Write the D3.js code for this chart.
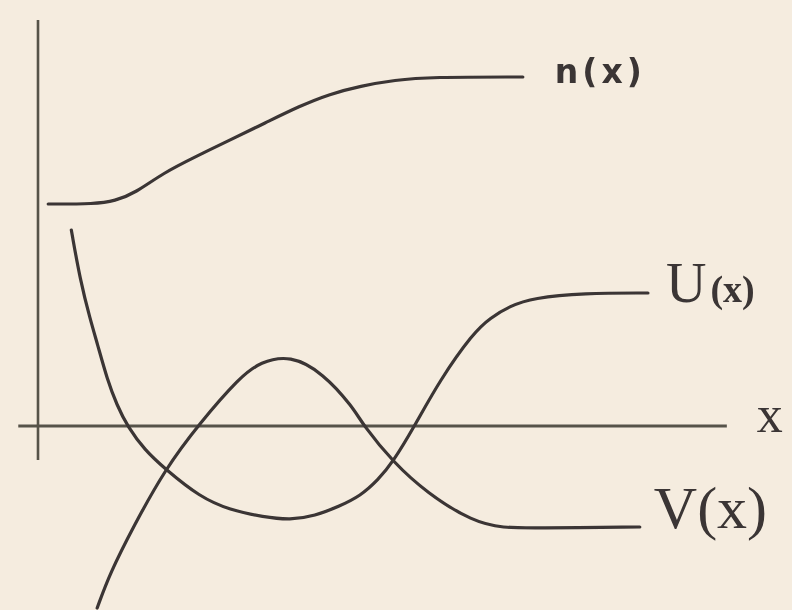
<!DOCTYPE html>
<html>
<head>
<meta charset="utf-8">
<script src="https://cdn.jsdelivr.net/npm/d3@7/dist/d3.min.js"></script>
<style>
  html, body { margin: 0; padding: 0; background: #f5ecdf; }
  svg { display: block; }
</style>
</head>
<body>
<script>
// Sketch of n(x), U(x) and V(x) against x (schematic units).
const nX = [0.15, 0.84, 1.13, 1.43, 1.84, 2.34, 2.82, 3.34, 3.85, 4.29, 4.74, 5.25, 5.77, 7.13];
const nY = [4.44, 4.44, 4.50, 4.66, 5.06, 5.40, 5.72, 6.06, 6.40, 6.64, 6.80, 6.92, 6.98, 6.98];

const uX = [0.49, 0.62, 0.77, 0.87, 1.02, 1.16, 1.32, 1.57, 1.87, 2.38, 2.82, 3.32, 3.71, 4.07, 4.44, 4.74, 5.00, 5.22, 5.53, 5.91, 6.40, 6.65, 6.94, 7.28, 8.02, 8.97];
const uY = [3.92, 2.92, 2.12, 1.66, 0.92, 0.42, -0.02, -0.48, -0.86, -1.42, -1.68, -1.82, -1.88, -1.80, -1.60, -1.40, -1.08, -0.72, -0.02, 0.92, 1.86, 2.16, 2.40, 2.56, 2.66, 2.66];

const vX = [0.87, 1.06, 1.40, 1.87, 2.38, 2.97, 3.27, 3.71, 4.19, 4.63, 4.78, 5.22, 5.72, 6.40, 6.85, 7.28, 8.85];
const vY = [-3.64, -2.94, -2.02, -0.86, 0.06, 0.98, 1.28, 1.42, 1.06, 0.38, 0.02, -0.72, -1.34, -1.92, -2.04, -2.04, -2.02];

const xAxisExtent = [-0.29, 10.13];
const yAxisExtent = [-0.68, 8.12];

const labels = ["n(x)", "U(x)", "V(x)", "x"];

const W = 792, H = 610;
const svg = d3.select("body").append("svg").attr("width", W).attr("height", H);

svg.append("defs").append("filter").attr("id", "soft")
  .append("feGaussianBlur").attr("stdDeviation", 0.55);

const x = d3.scaleLinear().domain([0, 10]).range([38, 718]);
const y = d3.scaleLinear().domain([-3.7, 8.3]).range([611, 11]);

const ink = "#3a3534";
const axisInk = "#56524a";
const g = svg.append("g").attr("filter", "url(#soft)");

// axes
g.append("line")
  .attr("x1", x(xAxisExtent[0])).attr("x2", x(xAxisExtent[1]))
  .attr("y1", y(0)).attr("y2", y(0))
  .attr("stroke", axisInk).attr("stroke-width", 3);
g.append("line")
  .attr("x1", x(0)).attr("x2", x(0))
  .attr("y1", y(yAxisExtent[0])).attr("y2", y(yAxisExtent[1]))
  .attr("stroke", axisInk).attr("stroke-width", 2.6);

// smooth hand-drawn curves
const line = d3.line()
  .x(d => x(d[0])).y(d => y(d[1]))
  .curve(d3.curveBasis);

const series = [
  { xs: nX, ys: nY },
  { xs: uX, ys: uY },
  { xs: vX, ys: vY }
];
series.forEach(s => {
  const pts = s.xs.map((v, i) => [v, s.ys[i]]);
  g.append("path").datum(pts)
    .attr("d", line)
    .attr("fill", "none")
    .attr("stroke", ink)
    .attr("stroke-width", 3.2)
    .attr("stroke-linecap", "round");
});

// end labels
const nEnd = [nX[nX.length - 1], nY[nY.length - 1]];
g.append("text")
  .attr("x", x(nEnd[0]) + 32).attr("y", y(nEnd[1]) + 6)
  .attr("font-family", "DejaVu Sans").attr("font-weight", "bold")
  .attr("font-size", 33).attr("letter-spacing", 4)
  .attr("fill", ink).text(labels[0]);

const uEnd = [uX[uX.length - 1], uY[uY.length - 1]];
const uText = g.append("text")
  .attr("x", x(uEnd[0]) + 18).attr("y", y(uEnd[1]) + 9)
  .attr("font-family", "Liberation Serif")
  .attr("fill", ink);
uText.append("tspan").attr("font-size", 56).text(labels[1].slice(0, 1));
uText.append("tspan").attr("font-size", 38).attr("dx", 4).attr("font-weight", "bold").text(labels[1].slice(1));

const vEnd = [vX[vX.length - 1], vY[vY.length - 1]];
g.append("text")
  .attr("x", x(vEnd[0]) + 14).attr("y", y(vEnd[1]) + 1)
  .attr("font-family", "Liberation Serif")
  .attr("font-size", 60)
  .attr("fill", ink).text(labels[2]);

g.append("text")
  .attr("x", x(xAxisExtent[1]) + 30).attr("y", y(0) + 6)
  .attr("font-family", "Liberation Serif")
  .attr("font-size", 52)
  .attr("fill", ink).text(labels[3]);
</script>
</body>
</html>
